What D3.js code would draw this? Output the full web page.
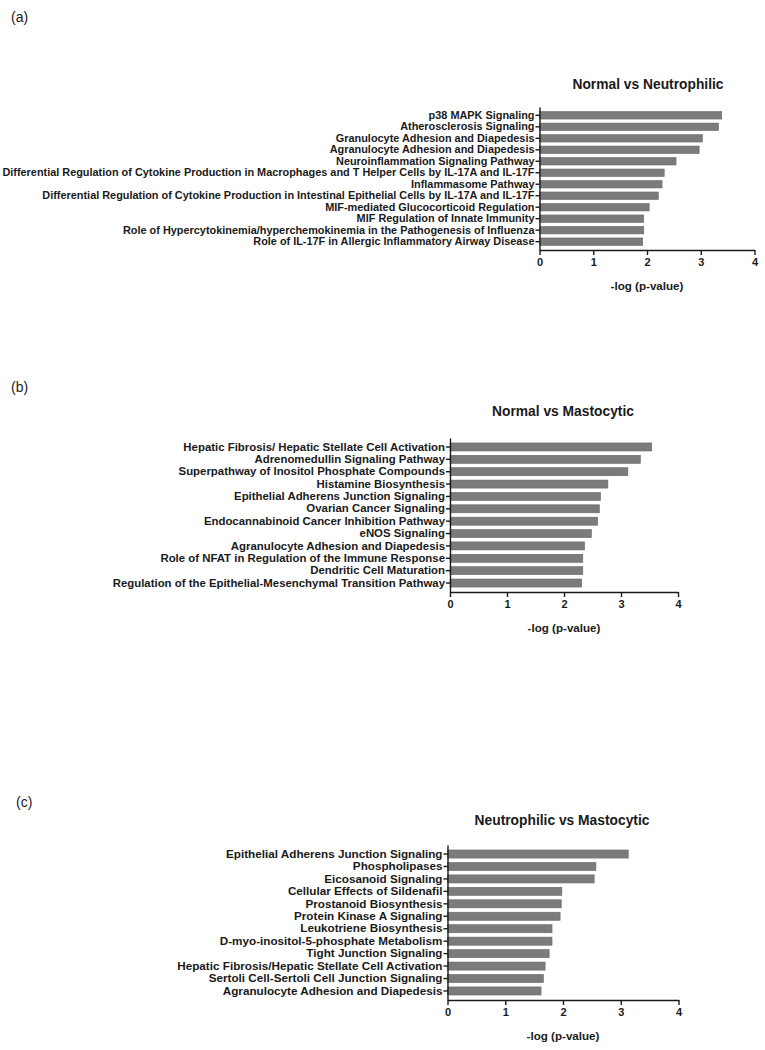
<!DOCTYPE html>
<html>
<head>
<meta charset="utf-8">
<script src="https://cdn.jsdelivr.net/npm/d3@7"></script>
<style>
  body { margin: 0; background: #fff; }
  svg { display: block; }
  text { font-family: "Liberation Sans", Arial, sans-serif; fill: #1a1a1a; }
</style>
</head>
<body>
<div id="visual"></div>
<script>
// panel (a)
var pathwaysA = ['p38 MAPK Signaling', 'Atherosclerosis Signaling', 'Granulocyte Adhesion and Diapedesis',
    'Agranulocyte Adhesion and Diapedesis', 'Neuroinflammation Signaling Pathway',
    'Differential Regulation of Cytokine Production in Macrophages and T Helper Cells by IL-17A and IL-17F',
    'Inflammasome Pathway',
    'Differential Regulation of Cytokine Production in Intestinal Epithelial Cells by IL-17A and IL-17F',
    'MIF-mediated Glucocorticoid Regulation', 'MIF Regulation of Innate Immunity',
    'Role of Hypercytokinemia/hyperchemokinemia in the Pathogenesis of Influenza',
    'Role of IL-17F in Allergic Inflammatory Airway Disease'];
var valuesA = [3.39, 3.33, 3.03, 2.97, 2.54, 2.32, 2.28, 2.21, 2.04, 1.94, 1.94, 1.92];

// panel (b)
var pathwaysB = ['Hepatic Fibrosis/ Hepatic Stellate Cell Activation', 'Adrenomedullin Signaling Pathway',
    'Superpathway of Inositol Phosphate Compounds', 'Histamine Biosynthesis',
    'Epithelial Adherens Junction Signaling', 'Ovarian Cancer Signaling',
    'Endocannabinoid Cancer Inhibition Pathway', 'eNOS Signaling', 'Agranulocyte Adhesion and Diapedesis',
    'Role of NFAT in Regulation of the Immune Response', 'Dendritic Cell Maturation',
    'Regulation of the Epithelial-Mesenchymal Transition Pathway'];
var valuesB = [3.54, 3.34, 3.12, 2.77, 2.64, 2.62, 2.59, 2.48, 2.36, 2.33, 2.33, 2.31];

// panel (c)
var pathwaysC = ['Epithelial Adherens Junction Signaling', 'Phospholipases', 'Eicosanoid Signaling',
    'Cellular Effects of Sildenafil', 'Prostanoid Biosynthesis', 'Protein Kinase A Signaling',
    'Leukotriene Biosynthesis', 'D-myo-inositol-5-phosphate Metabolism', 'Tight Junction Signaling',
    'Hepatic Fibrosis/Hepatic Stellate Cell Activation', 'Sertoli Cell-Sertoli Cell Junction Signaling',
    'Agranulocyte Adhesion and Diapedesis'];
var valuesC = [3.13, 2.57, 2.54, 1.98, 1.97, 1.95, 1.81, 1.81, 1.76, 1.69, 1.66, 1.62];

var xTicks = [0, 1, 2, 3, 4];
var axisTitle = '-log (p-value)';

var svg = d3.select('#visual')
    .append('svg')
    .attr('width', 765)
    .attr('height', 1050);

function drawPanel(p) {
    var g = svg.append('g');

    var x_scale = d3.scaleLinear()
        .domain([0, 4])
        .range([p.x0, p.x1]);

    var y_scale = d3.scaleBand()
        .domain(p.names)
        .range([p.top, p.bottom])
        .paddingInner(0.35)
        .paddingOuter(0.4);

    var rows = p.names.map(function (n, i) {
        return { name: n, value: p.values[i] };
    });

    g.selectAll('.bar')
        .data(rows)
        .enter()
        .append('rect')
        .attr('class', 'bar')
        .attr('x', x_scale(0))
        .attr('y', function (d) { return y_scale(d.name); })
        .attr('width', function (d) { return x_scale(d.value) - x_scale(0); })
        .attr('height', y_scale.bandwidth())
        .attr('fill', '#7b7b7b')
        .attr('stroke', '#6a6a6a')
        .attr('stroke-width', 0.6);

    var y_axis = d3.axisLeft(y_scale).tickSize(4).tickSizeOuter(0).tickPadding(1);
    var x_axis = d3.axisBottom(x_scale).tickValues(xTicks).tickFormat(d3.format('d'))
        .tickSize(5).tickSizeOuter(0).tickPadding(3);

    var ya = g.append('g')
        .attr('transform', 'translate(' + x_scale(0) + ',0)')
        .call(y_axis);
    ya.selectAll('text')
        .attr('font-size', p.labelSize + 'px')
        .attr('font-weight', 'bold')
        .attr('font-family', '"Liberation Sans", Arial, sans-serif');

    var xa = g.append('g')
        .attr('transform', 'translate(0,' + p.bottom + ')')
        .call(x_axis);
    xa.selectAll('text')
        .attr('font-size', '11px')
        .attr('font-weight', 'bold')
        .attr('font-family', '"Liberation Sans", Arial, sans-serif');

    g.selectAll('.domain, .tick line')
        .attr('stroke', '#1a1a1a')
        .attr('stroke-width', 1.4);

    g.append('text')
        .attr('x', p.titleX)
        .attr('y', p.titleY)
        .attr('text-anchor', 'middle')
        .attr('font-size', '13.8px')
        .attr('font-weight', 'bold')
        .text(p.title);

    g.append('text')
        .attr('x', (p.x0 + p.x1) / 2)
        .attr('y', p.bottom + 40)
        .attr('text-anchor', 'middle')
        .attr('font-size', '11.6px')
        .attr('font-weight', 'bold')
        .text(axisTitle);

    g.append('text')
        .attr('x', p.tagX)
        .attr('y', p.tagY)
        .attr('font-size', '14px')
        .text(p.tag);
}

drawPanel({ names: pathwaysA, values: valuesA, x0: 539.5, x1: 754.5, top: 107, bottom: 250, labelSize: 10.9,
    title: 'Normal vs Neutrophilic', titleX: 648, titleY: 89, tag: '(a)', tagX: 11, tagY: 22 });
drawPanel({ names: pathwaysB, values: valuesB, x0: 450, x1: 678, top: 438, bottom: 592, labelSize: 11.4,
    title: 'Normal vs Mastocytic', titleX: 563, titleY: 416, tag: '(b)', tagX: 11, tagY: 392 });
drawPanel({ names: pathwaysC, values: valuesC, x0: 447.5, x1: 678.5, top: 845, bottom: 1000, labelSize: 11.7,
    title: 'Neutrophilic vs Mastocytic', titleX: 562, titleY: 825, tag: '(c)', tagX: 16, tagY: 807 });
</script>
</body>
</html>
